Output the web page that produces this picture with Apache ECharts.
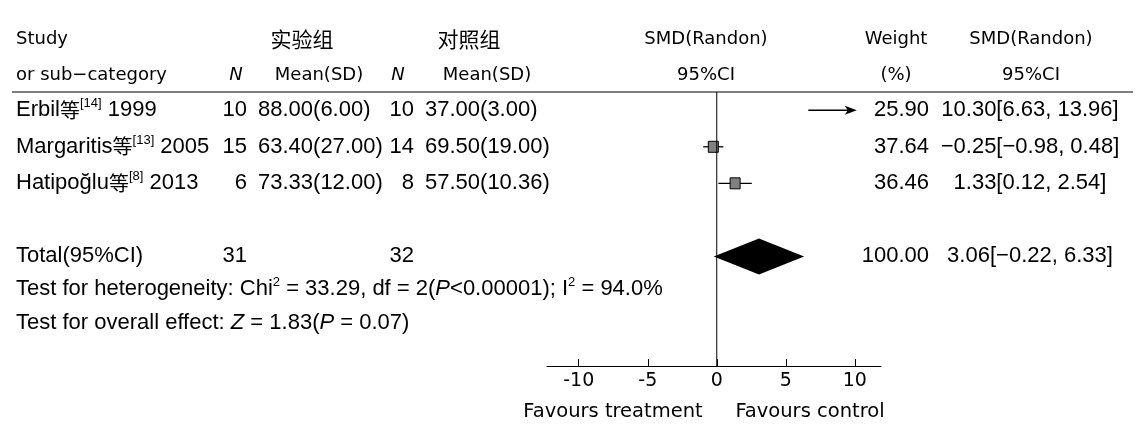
<!DOCTYPE html>
<html>
<head>
<meta charset="utf-8">
<script src="https://cdn.jsdelivr.net/npm/echarts@6/dist/echarts.min.js"></script>
<style>
html,body{margin:0;padding:0;background:#fff;}
#main{width:1145px;height:434px;}
</style>
</head>
<body>
<div id="main"></div>
<script>
// ---------------- data ----------------
const studyNames = ['Erbil', 'Margaritis', 'Hatipoğlu'];
const studyRefs = ['14', '13', '8'];
const studyYears = [1999, 2005, 2013];
const nTreat = [10, 15, 6];
const meanTreat = [88.00, 63.40, 73.33];
const sdTreat = [6.00, 27.00, 12.00];
const nCtrl = [10, 14, 8];
const meanCtrl = [37.00, 69.50, 57.50];
const sdCtrl = [3.00, 19.00, 10.36];
const weights = [25.90, 37.64, 36.46];
const smd = [10.30, -0.25, 1.33];
const ciLow = [6.63, -0.98, 0.12];
const ciHigh = [13.96, 0.48, 2.54];
const totalNTreat = 31;
const totalNCtrl = 32;
const totalWeight = 100.00;
const totalSmd = 3.06;
const totalLow = -0.22;
const totalHigh = 6.33;
const xTicks = [-10, -5, 0, 5, 10];
const heterogeneity = {chi2: '33.29', df: 2, p: '<0.00001', i2: '94.0%'};
const overall = {z: '1.83', p: '0.07'};

// row positions on the (hidden) y axis
const studyRows = [0.5, 1.5, 2.5];
const totalRow = 4.5;
const headRow1 = -1.44, headRow2 = -0.45;
const hetRow = 5.4, overallRow = 6.33, favRow = 8.76;

// ---------------- helpers ----------------
const f2 = v => v.toFixed(2).replace('-', '−');
const ciText = (e, l, h) => f2(e) + '[' + f2(l) + ', ' + f2(h) + ']';

const DATA_FONT = 'Liberation Sans';
const HEAD_FONT = 'DejaVu Sans';
const CJK_FONT = 'Noto Sans CJK SC';
const rich = {
  t: {fontFamily: DATA_FONT, fontSize: 22, fill: '#000', lineHeight: 26, verticalAlign: 'middle'},
  i: {fontFamily: DATA_FONT, fontSize: 22, fontStyle: 'italic', fill: '#000', lineHeight: 26, verticalAlign: 'middle'},
  c: {fontFamily: CJK_FONT, fontSize: 20, fill: '#000', lineHeight: 26, verticalAlign: 'middle'},
  s: {fontFamily: DATA_FONT, fontSize: 13, fill: '#000', verticalAlign: 'top', lineHeight: 18},
  s2: {fontFamily: DATA_FONT, fontSize: 13, fill: '#000', verticalAlign: 'top', lineHeight: 18},
  h: {fontFamily: HEAD_FONT, fontSize: 18, fill: '#000', lineHeight: 22, verticalAlign: 'middle'},
  hi: {fontFamily: HEAD_FONT, fontSize: 18, fontStyle: 'italic', fill: '#000', lineHeight: 22, verticalAlign: 'middle'},
  f: {fontFamily: HEAD_FONT, fontSize: 19.5, fill: '#000', lineHeight: 22, verticalAlign: 'middle'},
  hc: {fontFamily: CJK_FONT, fontSize: 21, fill: '#000', lineHeight: 24, verticalAlign: 'middle'}
};

// column layout (pixels)
const COL = {
  study: 16, n1: 247, mean1: 258, n2: 414, mean2: 425, weight: 929, ci: 1030,
  hN1: 236, hMean1: 319, hN2: 398, hMean2: 487, hG1: 302, hG2: 469,
  hSmd: 706, hWeight: 896, hCi: 1031, favT: 613, favC: 810,
  ruleL: 12, ruleR: 1133
};

// build table lines from the data arrays
const lines = [];
lines.push({row: headRow1, cells: [
  [COL.study, 'left', '{h|Study}'],
  [COL.hG1, 'center', '{hc|实验组}'],
  [COL.hG2, 'center', '{hc|对照组}'],
  [COL.hSmd, 'center', '{h|SMD(Randon)}'],
  [COL.hWeight, 'center', '{h|Weight}'],
  [COL.hCi, 'center', '{h|SMD(Randon)}']
]});
lines.push({row: headRow2, cells: [
  [COL.study, 'left', '{h|or sub−category}'],
  [COL.hN1, 'center', '{hi|N}'],
  [COL.hMean1, 'center', '{h|Mean(SD)}'],
  [COL.hN2, 'center', '{hi|N}'],
  [COL.hMean2, 'center', '{h|Mean(SD)}'],
  [COL.hSmd, 'center', '{h|95%CI}'],
  [COL.hWeight, 'center', '{h|(%)}'],
  [COL.hCi, 'center', '{h|95%CI}']
], rule: true});
studyNames.forEach((name, i) => {
  lines.push({row: studyRows[i], cells: [
    [COL.study, 'left', '{t|' + name + '}{c|等}{s|[' + studyRefs[i] + ']}{t| ' + studyYears[i] + '}'],
    [COL.n1, 'right', '{t|' + nTreat[i] + '}'],
    [COL.mean1, 'left', '{t|' + f2(meanTreat[i]) + '(' + f2(sdTreat[i]) + ')}'],
    [COL.n2, 'right', '{t|' + nCtrl[i] + '}'],
    [COL.mean2, 'left', '{t|' + f2(meanCtrl[i]) + '(' + f2(sdCtrl[i]) + ')}'],
    [COL.weight, 'right', '{t|' + f2(weights[i]) + '}'],
    [COL.ci, 'center', '{t|' + ciText(smd[i], ciLow[i], ciHigh[i]) + '}']
  ]});
});
lines.push({row: totalRow, cells: [
  [COL.study, 'left', '{t|Total(95%CI)}'],
  [COL.n1, 'right', '{t|' + totalNTreat + '}'],
  [COL.n2, 'right', '{t|' + totalNCtrl + '}'],
  [COL.weight, 'right', '{t|' + f2(totalWeight) + '}'],
  [COL.ci, 'center', '{t|' + ciText(totalSmd, totalLow, totalHigh) + '}']
]});
lines.push({row: hetRow, cells: [
  [COL.study, 'left', '{t|Test for heterogeneity: Chi}{s2|2}{t| = ' + heterogeneity.chi2 + ', df = ' + heterogeneity.df + '(}{i|P}{t|' + heterogeneity.p + '); I}{s2|2}{t| = ' + heterogeneity.i2 + '}']
]});
lines.push({row: overallRow, cells: [
  [COL.study, 'left', '{t|Test for overall effect: }{i|Z}{t| = ' + overall.z + '(}{i|P}{t| = ' + overall.p + ')}']
]});
lines.push({row: favRow, cells: [
  [COL.favT, 'center', '{f|Favours treatment}'],
  [COL.favC, 'center', '{f|Favours control}']
]});

const X_MAX_DRAW = 10;

const chart = echarts.init(document.getElementById('main'), null, {renderer: 'canvas'});
const option = {
  animation: false,
  backgroundColor: '#fff',
  grid: {left: 547, width: 334, top: 92, height: 274},
  xAxis: {
    type: 'value', min: -12.3, max: 11.9,
    axisLine: {onZero: false, lineStyle: {color: '#000', width: 1}},
    axisTick: {inside: true, length: 7, customValues: xTicks, lineStyle: {color: '#000', width: 1}},
    axisLabel: {customValues: xTicks, color: '#000', fontFamily: HEAD_FONT, fontSize: 19, margin: 6},
    splitLine: {show: false}
  },
  yAxis: {type: 'value', min: 0, max: 7.5, inverse: true, show: false},
  series: [
    {
      type: 'line', silent: true, symbol: 'none',
      data: [[0, 0], [0, 7.5]],
      lineStyle: {color: '#000', width: 1}
    },
    {
      type: 'custom', silent: true, clip: false,
      data: studyNames.map((_, i) => [smd[i], studyRows[i], ciLow[i], ciHigh[i]]),
      renderItem: function (params, api) {
        const est = api.value(0), row = api.value(1), lo = api.value(2), hi = api.value(3);
        const y = api.coord([0, row])[1];
        const pLo = api.coord([lo, row])[0];
        const children = [];
        if (hi > X_MAX_DRAW) {
          const pEnd = api.coord([X_MAX_DRAW, row])[0];
          children.push({type: 'line', shape: {x1: pLo, y1: y, x2: pEnd - 5, y2: y}, style: {stroke: '#000', lineWidth: 1.3}});
          children.push({type: 'polygon', shape: {points: [[pEnd + 2, y], [pEnd - 10, y - 4.5], [pEnd - 7, y], [pEnd - 10, y + 4.5]]}, style: {fill: '#000'}});
        } else {
          const pHi = api.coord([hi, row])[0];
          children.push({type: 'line', shape: {x1: pLo, y1: y, x2: pHi, y2: y}, style: {stroke: '#000', lineWidth: 1.3}});
        }
        if (est <= X_MAX_DRAW) {
          const px = api.coord([est, row])[0];
          children.push({type: 'rect', shape: {x: px - 5, y: y - 5.5, width: 10, height: 11}, style: {fill: '#808080', stroke: '#000', lineWidth: 1}});
        }
        return {type: 'group', children: children};
      }
    },
    {
      type: 'custom', silent: true, clip: false,
      data: [[totalSmd, totalRow, totalLow, totalHigh]],
      renderItem: function (params, api) {
        const row = api.value(1);
        const c = api.coord([api.value(0), row]);
        const l = api.coord([api.value(2), row]);
        const h = api.coord([api.value(3), row]);
        const hh = 18;
        return {type: 'polygon', shape: {points: [[l[0], c[1]], [c[0], c[1] - hh], [h[0], c[1]], [c[0], c[1] + hh]]}, style: {fill: '#000'}};
      }
    },
    {
      type: 'custom', silent: true, clip: false,
      data: lines.map(l => [0, l.row]),
      renderItem: function (params, api) {
        const ln = lines[params.dataIndex];
        const y = api.coord([0, api.value(1)])[1];
        const children = ln.cells.map(c => ({
          type: 'text',
          style: {x: c[0], y: y, text: c[2], align: c[1], verticalAlign: 'middle', rich: rich,
                  fontFamily: DATA_FONT, fontSize: 22, fill: '#000'}
        }));
        if (ln.rule) {
          const ry = api.coord([0, 0])[1];
          children.push({type: 'line', shape: {x1: COL.ruleL, y1: ry, x2: COL.ruleR, y2: ry}, style: {stroke: '#000', lineWidth: 1.2}});
        }
        return {type: 'group', children: children};
      }
    }
  ]
};
chart.setOption(option);
</script>
</body>
</html>
